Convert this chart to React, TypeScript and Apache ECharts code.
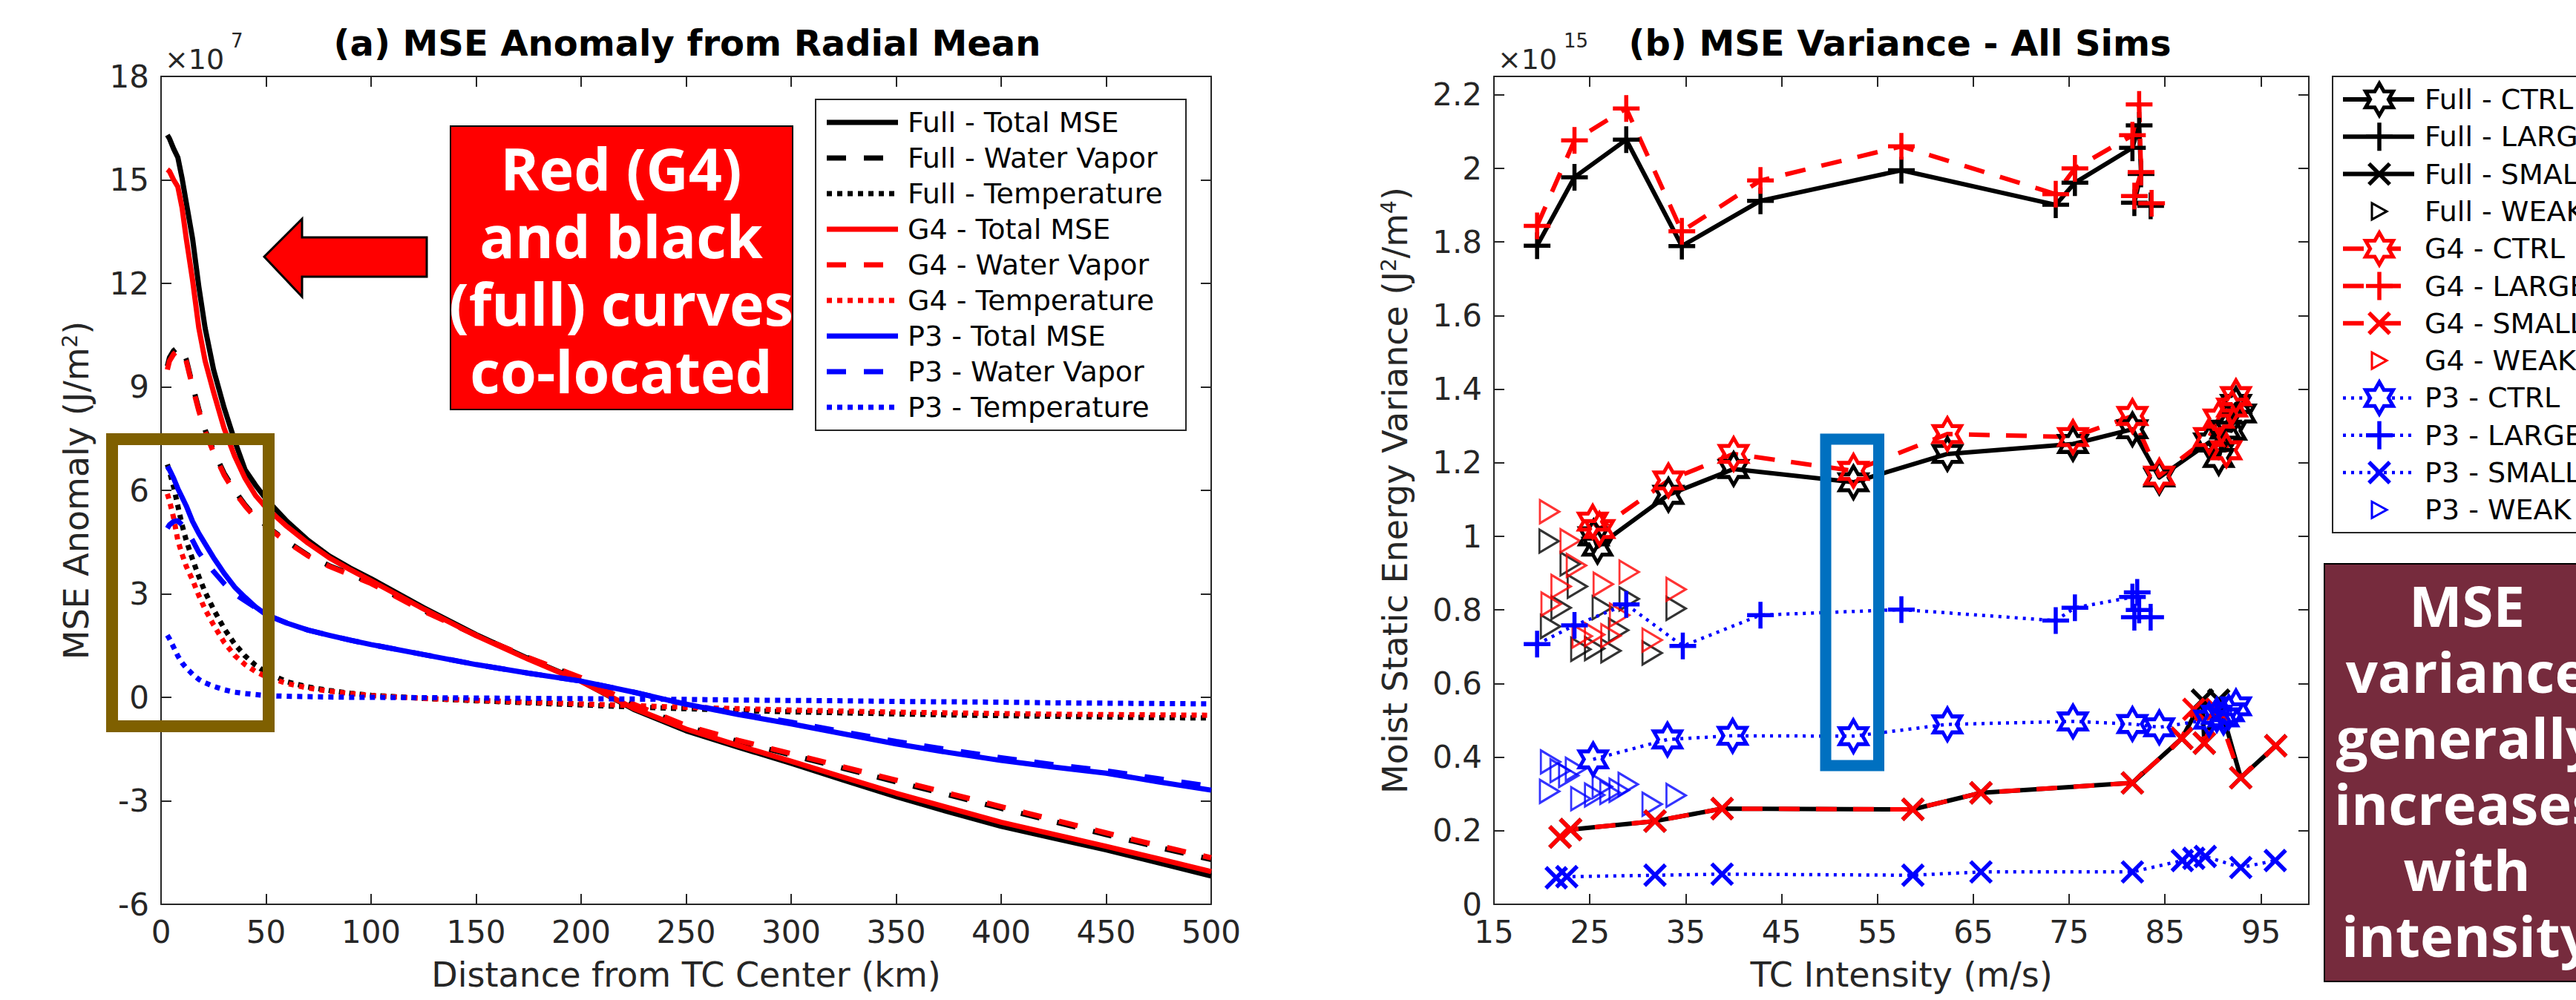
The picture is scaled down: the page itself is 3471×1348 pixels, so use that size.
import React, { useEffect, useRef } from "react";
import * as echarts from "echarts";

// ---------------- Panel (a): MSE anomaly from radial mean (units of 1e7 J/m^2) ----------------
const DIST_KM = [3, 4, 6, 8, 10, 12, 15, 18, 21, 25, 30, 35, 40, 45, 50, 60, 70, 80, 90, 100, 125, 150, 175, 200, 225, 250, 275, 300, 325, 350, 375, 400, 425, 450, 475, 500];

const FULL_TOTAL_MSE = [16.3, 16.2, 15.9, 15.65, 15.05, 14.35, 13.3, 11.9, 10.7, 9.5, 8.4, 7.45, 6.6, 6.15, 5.75, 5.1, 4.55, 4.1, 3.75, 3.44, 2.6, 1.82, 1.12, 0.47, -0.35, -0.97, -1.45, -1.91, -2.4, -2.88, -3.32, -3.74, -4.08, -4.42, -4.8, -5.18];
const FULL_WATER_VAPOR = [9.6, 9.85, 10.05, 10.15, 10.1, 9.8, 9.05, 8.35, 7.75, 7.15, 6.5, 6.0, 5.58, 5.23, 4.98, 4.52, 4.12, 3.82, 3.57, 3.32, 2.52, 1.8, 1.14, 0.55, -0.22, -0.85, -1.28, -1.67, -2.06, -2.45, -2.83, -3.22, -3.6, -3.98, -4.35, -4.7];
const FULL_TEMPERATURE = [6.75, 6.55, 6.1, 5.55, 5.0, 4.55, 4.0, 3.5, 3.05, 2.55, 2.0, 1.55, 1.2, 0.93, 0.72, 0.45, 0.3, 0.2, 0.12, 0.06, -0.03, -0.1, -0.16, -0.22, -0.28, -0.33, -0.38, -0.42, -0.45, -0.48, -0.51, -0.53, -0.55, -0.57, -0.59, -0.6];
const G4_TOTAL_MSE = [15.3, 15.25, 15.0, 14.8, 14.2, 13.3, 12.1, 10.7, 9.75, 8.85, 7.8, 7.0, 6.35, 5.85, 5.5, 4.95, 4.47, 4.05, 3.7, 3.38, 2.56, 1.79, 1.1, 0.46, -0.32, -0.92, -1.4, -1.85, -2.32, -2.78, -3.2, -3.62, -3.97, -4.32, -4.68, -5.05];
const G4_WATER_VAPOR = [9.5, 9.75, 9.95, 10.05, 10.05, 9.75, 9.0, 8.3, 7.7, 7.1, 6.45, 5.95, 5.55, 5.2, 4.95, 4.5, 4.1, 3.8, 3.55, 3.3, 2.5, 1.8, 1.15, 0.57, -0.2, -0.82, -1.25, -1.63, -2.02, -2.4, -2.78, -3.17, -3.55, -3.93, -4.3, -4.65];
const G4_TEMPERATURE = [5.9, 5.7, 5.2, 4.55, 4.15, 3.8, 3.4, 2.95, 2.55, 2.1, 1.6, 1.22, 0.95, 0.75, 0.6, 0.4, 0.27, 0.18, 0.11, 0.05, -0.03, -0.09, -0.14, -0.19, -0.24, -0.29, -0.33, -0.37, -0.4, -0.43, -0.45, -0.47, -0.49, -0.5, -0.51, -0.52];
const P3_TOTAL_MSE = [6.7, 6.6, 6.35, 6.05, 5.8, 5.55, 5.1, 4.75, 4.45, 4.05, 3.6, 3.2, 2.9, 2.62, 2.4, 2.15, 1.95, 1.8, 1.66, 1.53, 1.24, 0.95, 0.7, 0.47, 0.15, -0.2, -0.5, -0.77, -1.06, -1.35, -1.6, -1.83, -2.02, -2.2, -2.45, -2.69];
const P3_WATER_VAPOR = [4.9, 5.0, 5.1, 5.12, 5.0, 4.85, 4.55, 4.2, 3.95, 3.65, 3.3, 3.0, 2.8, 2.6, 2.4, 2.15, 1.95, 1.8, 1.66, 1.53, 1.24, 0.95, 0.7, 0.47, 0.15, -0.2, -0.47, -0.72, -1.0, -1.28, -1.52, -1.75, -1.95, -2.13, -2.36, -2.58];
const P3_TEMPERATURE = [1.8, 1.7, 1.45, 1.2, 1.0, 0.85, 0.67, 0.52, 0.42, 0.32, 0.22, 0.15, 0.11, 0.08, 0.05, 0.03, 0.02, 0.01, 0, 0, -0.01, -0.02, -0.03, -0.04, -0.05, -0.06, -0.08, -0.09, -0.1, -0.12, -0.13, -0.14, -0.16, -0.17, -0.18, -0.19];

const A_X_TICKS = [0, 50, 100, 150, 200, 250, 300, 350, 400, 450, 500];
const A_Y_TICKS = [-6, -3, 0, 3, 6, 9, 12, 15, 18];

// ---------------- Panel (b): MSE variance vs intensity ([m/s, 1e15 J^2/m^4]) ----------------
const FULL_CTRL = [[25.4, 1.0], [25.8, 0.972], [33.2, 1.113], [40.0, 1.183], [52.5, 1.147], [62.3, 1.224], [75.4, 1.251], [81.6, 1.291], [84.4, 1.16], [89.6, 1.255], [90.6, 1.213], [91.3, 1.29], [91.9, 1.287], [92.4, 1.36], [92.9, 1.334]];
const FULL_LARGE = [[19.5, 1.79], [23.4, 1.976], [28.8, 2.078], [34.6, 1.789], [42.8, 1.912], [57.5, 1.995], [73.6, 1.901], [75.6, 1.961], [81.6, 2.056], [82.3, 2.117], [82.5, 1.985], [81.8, 1.907], [83.5, 1.898]];
const FULL_SMALL = [[21.9, 0.183], [23.0, 0.203], [31.8, 0.226], [38.8, 0.26], [58.7, 0.258], [65.8, 0.303], [81.6, 0.33], [86.75, 0.451], [88.9, 0.555], [89.1, 0.438], [90.6, 0.555], [92.9, 0.344], [96.55, 0.431]];
const FULL_WEAK = [[20.75, 0.987], [22.95, 0.925], [23.7, 0.864], [22.0, 0.806], [20.9, 0.755], [26.3, 0.806], [29.1, 0.83], [34.0, 0.804], [28.0, 0.745], [24.06, 0.693], [25.5, 0.695], [27.2, 0.689], [31.5, 0.683]];
const G4_CTRL = [[25.3, 1.04], [26.0, 1.02], [33.2, 1.152], [40.0, 1.224], [52.5, 1.178], [62.3, 1.278], [75.4, 1.27], [81.6, 1.327], [84.4, 1.165], [89.6, 1.27], [90.6, 1.32], [91.4, 1.234], [92.0, 1.35], [92.4, 1.381]];
const G4_LARGE = [[19.5, 1.844], [23.4, 2.076], [28.8, 2.163], [34.6, 1.829], [42.8, 1.967], [57.5, 2.06], [73.6, 1.93], [75.6, 2.0], [81.6, 2.09], [82.3, 2.174], [82.5, 1.99], [81.8, 1.925], [83.6, 1.905]];
const G4_SMALL = [[21.9, 0.183], [23.0, 0.203], [31.8, 0.226], [38.8, 0.26], [58.7, 0.258], [65.8, 0.303], [81.6, 0.33], [86.75, 0.451], [88.0, 0.53], [89.1, 0.438], [90.4, 0.53], [92.9, 0.344], [96.55, 0.431]];
const G4_WEAK = [[20.8, 1.067], [22.95, 0.988], [23.6, 0.921], [22.0, 0.864], [20.96, 0.816], [26.4, 0.87], [29.1, 0.903], [34.0, 0.856], [28.1, 0.786], [24.2, 0.729], [25.5, 0.733], [27.2, 0.73], [31.5, 0.718]];
const P3_CTRL = [[25.35, 0.394], [33.1, 0.448], [39.9, 0.458], [52.5, 0.457], [62.3, 0.489], [75.4, 0.497], [81.6, 0.49], [84.4, 0.481], [89.6, 0.502], [90.4, 0.515], [91.1, 0.508], [91.65, 0.522], [92.4, 0.538]];
const P3_LARGE = [[19.5, 0.707], [23.4, 0.758], [28.8, 0.815], [34.7, 0.702], [42.8, 0.786], [57.5, 0.801], [73.6, 0.771], [75.6, 0.806], [81.6, 0.835], [82.1, 0.848], [82.3, 0.8], [81.8, 0.78], [83.5, 0.78]];
const P3_SMALL = [[21.5, 0.072], [22.6, 0.075], [31.8, 0.079], [38.8, 0.082], [58.7, 0.079], [65.8, 0.088], [81.6, 0.088], [86.8, 0.119], [88.0, 0.125], [89.2, 0.13], [92.9, 0.1], [96.5, 0.119]];
const P3_WEAK = [[20.9, 0.387], [21.9, 0.363], [23.5, 0.367], [20.8, 0.307], [24.06, 0.287], [25.5, 0.297], [27.1, 0.304], [29.0, 0.326], [31.5, 0.272], [34.0, 0.296], [28.06, 0.31], [22.8, 0.35], [26.3, 0.32]];

const B_X_TICKS = [15, 25, 35, 45, 55, 65, 75, 85, 95];
const B_Y_TICKS = [0, 0.2, 0.4, 0.6, 0.8, 1, 1.2, 1.4, 1.6, 1.8, 2, 2.2];

// ---------------- styling ----------------
const W = 3471;
const H = 1348;
const AX = "#262626";
const FONT = "'DejaVu Sans', Verdana, sans-serif";
const BIG_FONT = "'Open Sans', 'DejaVu Sans', sans-serif";
const BLACK = "#000000";
const RED = "#FF0000";
const BLUE = "#0000FF";

const A_SERIES = [
  { name: "Full - Total MSE", values: FULL_TOTAL_MSE, color: BLACK, style: "solid" },
  { name: "Full - Water Vapor", values: FULL_WATER_VAPOR, color: BLACK, style: "dashed" },
  { name: "Full - Temperature", values: FULL_TEMPERATURE, color: BLACK, style: "dotted" },
  { name: "G4 - Total MSE", values: G4_TOTAL_MSE, color: RED, style: "solid" },
  { name: "G4 - Water Vapor", values: G4_WATER_VAPOR, color: RED, style: "dashed" },
  { name: "G4 - Temperature", values: G4_TEMPERATURE, color: RED, style: "dotted" },
  { name: "P3 - Total MSE", values: P3_TOTAL_MSE, color: BLUE, style: "solid" },
  { name: "P3 - Water Vapor", values: P3_WATER_VAPOR, color: BLUE, style: "dashed" },
  { name: "P3 - Temperature", values: P3_TEMPERATURE, color: BLUE, style: "dotted" },
];

const B_SERIES = [
  { name: "Full - CTRL", data: FULL_CTRL, color: BLACK, line: "solid", marker: "hex" },
  { name: "Full - LARGE", data: FULL_LARGE, color: BLACK, line: "solid", marker: "plus" },
  { name: "Full - SMALL", data: FULL_SMALL, color: BLACK, line: "solid", marker: "cross" },
  { name: "Full - WEAK", data: FULL_WEAK, color: BLACK, line: "none", marker: "tri" },
  { name: "G4 - CTRL", data: G4_CTRL, color: RED, line: "dashed", marker: "hex" },
  { name: "G4 - LARGE", data: G4_LARGE, color: RED, line: "dashed", marker: "plus" },
  { name: "G4 - SMALL", data: G4_SMALL, color: RED, line: "dashed", marker: "cross" },
  { name: "G4 - WEAK", data: G4_WEAK, color: RED, line: "none", marker: "tri" },
  { name: "P3 - CTRL", data: P3_CTRL, color: BLUE, line: "dotted", marker: "hex" },
  { name: "P3 - LARGE", data: P3_LARGE, color: BLUE, line: "dotted", marker: "plus" },
  { name: "P3 - SMALL", data: P3_SMALL, color: BLUE, line: "dotted", marker: "cross" },
  { name: "P3 - WEAK", data: P3_WEAK, color: BLUE, line: "none", marker: "tri" },
];

const SYMBOLS: Record<string, { path: string; size: number[]; bw: number }> = {
  hex: {
    path: "path://M0,-100L-28.87,-50L-86.6,-50L-57.74,0L-86.6,50L-28.87,50L0,100L28.87,50L86.6,50L57.74,0L86.6,-50L28.87,-50Z",
    size: [37, 43],
    bw: 5,
  },
  plus: { path: "path://M-100,0L100,0M0,-100L0,100", size: [36, 36], bw: 5.5 },
  cross: { path: "path://M-100,-100L100,100M-100,100L100,-100", size: [28, 28], bw: 5.5 },
  tri: { path: "path://M-100,-100L100,0L-100,100Z", size: [26, 31], bw: 3 },
};

const HEX_UNIT = [[0, -1], [-0.2887, -0.5], [-0.866, -0.5], [-0.5774, 0], [-0.866, 0.5], [-0.2887, 0.5], [0, 1], [0.2887, 0.5], [0.866, 0.5], [0.5774, 0], [0.866, -0.5], [0.2887, -0.5]];

function aDash(style: string): any {
  if (style === "dashed") return [26, 24];
  if (style === "dotted") return [7, 7];
  return "solid";
}
function bDash(style: string): any {
  if (style === "dashed") return [28, 22];
  if (style === "dotted") return [4, 7];
  return "solid";
}
function bWidth(style: string) {
  return style === "dotted" ? 4.5 : 6;
}

function axis(gridIndex: number, position: string, min: number, max: number, ticks: number[], showLabel: boolean, extra: any = {}) {
  return {
    type: "value",
    gridIndex,
    position,
    min,
    max,
    axisLine: { show: true, onZero: false, lineStyle: { color: AX, width: 2 } },
    axisTick: { show: true, inside: true, length: 14, customValues: ticks, lineStyle: { color: AX, width: 2 } },
    axisLabel: { show: showLabel, customValues: ticks, fontFamily: FONT, fontSize: 42, color: AX, margin: 16 },
    splitLine: { show: false },
    ...extra,
  };
}

function legendMarker(kind: string, cx: number, cy: number, color: string): any[] {
  const z = 120;
  if (kind === "hex") {
    const hw = 18.5 / 0.866;
    const hh = 21.5;
    return [{ type: "polygon", z, shape: { points: HEX_UNIT.map(([x, y]) => [cx + x * hw, cy + y * hh]) }, style: { fill: "#fff", stroke: color, lineWidth: 5 } }];
  }
  if (kind === "plus") {
    return [
      { type: "line", z, shape: { x1: cx - 18, y1: cy, x2: cx + 18, y2: cy }, style: { stroke: color, lineWidth: 5.5 } },
      { type: "line", z, shape: { x1: cx, y1: cy - 19, x2: cx, y2: cy + 19 }, style: { stroke: color, lineWidth: 5.5 } },
    ];
  }
  if (kind === "cross") {
    return [
      { type: "line", z, shape: { x1: cx - 14, y1: cy - 14, x2: cx + 14, y2: cy + 14 }, style: { stroke: color, lineWidth: 5.5 } },
      { type: "line", z, shape: { x1: cx - 14, y1: cy + 14, x2: cx + 14, y2: cy - 14 }, style: { stroke: color, lineWidth: 5.5 } },
    ];
  }
  return [{ type: "polygon", z, shape: { points: [[cx - 10, cy - 11], [cx + 10, cy], [cx - 10, cy + 11]] }, style: { fill: "#fff", stroke: color, lineWidth: 3 } }];
}

function buildOption(): any {
  const graphics: any[] = [];

  // exponent labels
  const expo = (x: number, base: string, sup: string, supX: number) => {
    graphics.push({ type: "text", z: 110, style: { x, y: 80, text: base, fontFamily: FONT, fontSize: 38, fill: AX, verticalAlign: "middle", align: "left" } });
    graphics.push({ type: "text", z: 110, style: { x: supX, y: 55, text: sup, fontFamily: FONT, fontSize: 26, fill: AX, verticalAlign: "middle", align: "left" } });
  };
  expo(222, "×10", "7", 311);
  expo(2018, "×10", "15", 2107);

  // left legend
  graphics.push({ type: "rect", z: 110, shape: { x: 1099, y: 134, width: 499, height: 446 }, style: { fill: "#fff", stroke: AX, lineWidth: 2 } });
  A_SERIES.forEach((s, i) => {
    const y = 165 + 48 * i;
    const dash = aDash(s.style);
    graphics.push({ type: "line", z: 115, shape: { x1: 1114, y1: y, x2: 1210, y2: y }, style: { stroke: s.color, lineWidth: 7, lineDash: dash === "solid" ? null : dash, lineCap: "butt" } });
    graphics.push({ type: "text", z: 115, style: { x: 1223, y, text: s.name, fontFamily: FONT, fontSize: 38, fill: "#000", verticalAlign: "middle", align: "left" } });
  });

  // right legend
  graphics.push({ type: "rect", z: 110, shape: { x: 3143, y: 103, width: 420, height: 615 }, style: { fill: "#fff", stroke: AX, lineWidth: 2 } });
  B_SERIES.forEach((s, i) => {
    const y = 134 + 50.3 * i;
    if (s.line !== "none") {
      const dash = bDash(s.line);
      const x2 = s.line === "dashed" ? 3242 : 3253;
      graphics.push({ type: "line", z: 115, shape: { x1: 3157, y1: y, x2, y2: y }, style: { stroke: s.color, lineWidth: bWidth(s.line), lineDash: dash === "solid" ? null : dash, lineCap: "butt" } });
    }
    legendMarker(s.marker, 3206, y, s.color).forEach((g) => graphics.push(g));
    graphics.push({ type: "text", z: 115, style: { x: 3267, y, text: s.name, fontFamily: FONT, fontSize: 38, fill: "#000", verticalAlign: "middle", align: "left" } });
  });

  // annotations
  graphics.push({ type: "rect", z: 130, shape: { x: 151, y: 592, width: 211, height: 387 }, style: { fill: "none", stroke: "#7F6000", lineWidth: 16 } });
  graphics.push({ type: "rect", z: 130, shape: { x: 2460, y: 592, width: 71.5, height: 440 }, style: { fill: "none", stroke: "#0070C0", lineWidth: 15 } });
  graphics.push({ type: "rect", z: 130, shape: { x: 607, y: 170, width: 461, height: 382 }, style: { fill: RED, stroke: "#000", lineWidth: 2 } });
  graphics.push({
    type: "text", z: 135,
    style: { x: 837, y: 363, text: "Red (G4)\nand black\n(full) curves\nco-located", fontFamily: BIG_FONT, fontWeight: "bold", fontSize: 79, lineHeight: 91, fill: "#fff", align: "center", verticalAlign: "middle" },
  });
  graphics.push({
    type: "polygon", z: 130,
    shape: { points: [[356, 346], [407, 295], [407, 320], [575, 320], [575, 373], [407, 373], [407, 400]] },
    style: { fill: RED, stroke: "#000", lineWidth: 3 },
  });
  graphics.push({ type: "rect", z: 130, shape: { x: 3132, y: 760, width: 420, height: 563 }, style: { fill: "#762B3D", stroke: "#000", lineWidth: 2 } });
  graphics.push({
    type: "text", z: 135,
    style: { x: 3324, y: 1038, text: "MSE\nvariance\ngenerally\nincreases\nwith\nintensity", fontFamily: BIG_FONT, fontWeight: "bold", fontSize: 76, lineHeight: 89, fill: "#fff", align: "center", verticalAlign: "middle" },
  });

  const nameStyle = (rich: boolean) => ({
    fontFamily: FONT,
    fontSize: 46,
    color: AX,
    ...(rich ? { rich: { sup: { fontFamily: FONT, fontSize: 28, color: AX, verticalAlign: "top" } } } : {}),
  });

  const seriesA = A_SERIES.map((s) => ({
    type: "line",
    name: s.name,
    xAxisIndex: 0,
    yAxisIndex: 0,
    data: DIST_KM.map((d, i) => [d, s.values[i]]),
    showSymbol: false,
    symbol: "none",
    silent: true,
    emphasis: { disabled: true },
    lineStyle: { color: s.color, width: 7, type: aDash(s.style), cap: "butt", join: "round" },
  }));

  const seriesB = B_SERIES.map((s) => {
    const sym = SYMBOLS[s.marker];
    const common = {
      name: s.name,
      xAxisIndex: 2,
      yAxisIndex: 2,
      data: s.data,
      symbol: sym.path,
      symbolSize: sym.size,
      silent: true,
      emphasis: { disabled: true },
      itemStyle: { color: "none", borderColor: s.color, borderWidth: sym.bw },
    };
    if (s.line === "none") return { type: "scatter", ...common };
    return {
      type: "line",
      ...common,
      showSymbol: true,
      showAllSymbol: true,
      lineStyle: { color: s.color, width: bWidth(s.line), type: bDash(s.line), cap: "butt", join: "round" },
    };
  });

  return {
    animation: false,
    backgroundColor: "#ffffff",
    title: [
      { text: "(a) MSE Anomaly from Radial Mean", left: 926, top: 34, textAlign: "center", padding: 0, textStyle: { fontFamily: FONT, fontSize: 48, fontWeight: "bold", color: "#000" } },
      { text: "(b) MSE Variance - All Sims", left: 2560, top: 34, textAlign: "center", padding: 0, textStyle: { fontFamily: FONT, fontSize: 48, fontWeight: "bold", color: "#000" } },
    ],
    grid: [
      { left: 217, top: 103, width: 1415, height: 1116, containLabel: false },
      { left: 2013, top: 103, width: 1098, height: 1116, containLabel: false },
    ],
    xAxis: [
      axis(0, "bottom", 0, 500, A_X_TICKS, true, { name: "Distance from TC Center (km)", nameLocation: "middle", nameGap: 72, nameTextStyle: nameStyle(false) }),
      axis(0, "top", 0, 500, A_X_TICKS, false),
      axis(1, "bottom", 15, 100, B_X_TICKS, true, { name: "TC Intensity (m/s)", nameLocation: "middle", nameGap: 72, nameTextStyle: nameStyle(false) }),
      axis(1, "top", 15, 100, B_X_TICKS, false),
    ],
    yAxis: [
      axis(0, "left", -6, 18, A_Y_TICKS, true, { name: "MSE Anomaly (J/m{sup|2})", nameLocation: "middle", nameRotate: 90, nameGap: 91, nameTextStyle: nameStyle(true) }),
      axis(0, "right", -6, 18, A_Y_TICKS, false),
      axis(1, "left", 0, 2.25, B_Y_TICKS, true, { name: "Moist Static Energy Variance (J{sup|2}/m{sup|4})", nameLocation: "middle", nameRotate: 90, nameGap: 110, nameTextStyle: nameStyle(true) }),
      axis(1, "right", 0, 2.25, B_Y_TICKS, false),
    ],
    series: [...seriesA, ...seriesB],
    graphic: graphics,
  };
}

export default function App() {
  const ref = useRef<HTMLDivElement>(null);
  useEffect(() => {
    document.body.style.margin = "0";
    const chart = echarts.init(ref.current!, null, { renderer: "svg", width: W, height: H });
    chart.setOption(buildOption());
    return () => chart.dispose();
  }, []);
  return <div ref={ref} style={{ position: "absolute", left: 0, top: 0, width: W, height: H, background: "#fff" }} />;
}
